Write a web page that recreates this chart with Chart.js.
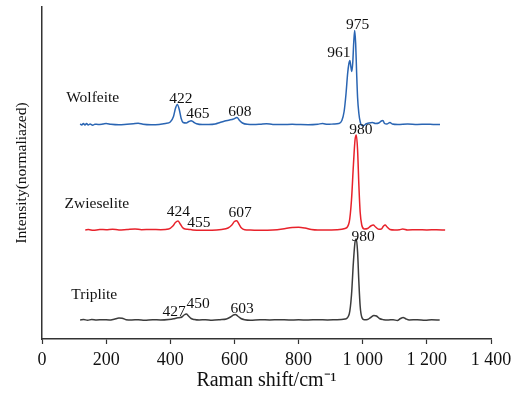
<!DOCTYPE html>
<html>
<head>
<meta charset="utf-8">
<script src="https://cdn.jsdelivr.net/npm/chart.js@4/dist/chart.umd.min.js"></script>
<style>
  html, body { margin: 0; padding: 0; background: #fff; }
</style>
</head>
<body>
<canvas id="chart" width="524" height="393"></canvas>
<script>
// Raman spectra, intensity above each baseline (arbitrary units)
const wolfeiteShift = [119, 124, 129, 134, 139, 144, 150, 158, 165, 175, 190, 200, 215, 240, 265, 285, 300, 315, 340, 365, 385, 400, 410, 416, 422, 428, 434, 440, 450, 458, 465, 472, 482, 500, 520, 540, 555, 570, 585, 597, 608, 616, 625, 640, 660, 680, 700, 720, 750, 780, 800, 830, 860, 875, 890, 910, 925, 935, 942, 948, 953, 957, 960, 963, 966, 969, 972, 975, 978, 981, 984, 988, 992, 997, 1003, 1010, 1020, 1030, 1040, 1050, 1058, 1063, 1068, 1075, 1085, 1092, 1110, 1140, 1170, 1200, 1220, 1241];
const wolfeiteIntensity = [0.5, -0.5, 1, -0.5, 1, -0.5, 0.5, -0.8, 0.3, 0, 0.5, 1, 0.2, -0.3, 0.3, 0.8, 1.2, 0.2, -0.3, 0, 1, 2.5, 8, 16, 20, 15, 6, 2, 1.5, 3, 3.8, 2.5, 0.8, 0, 0, 0.5, 2, 3.5, 4.5, 5.5, 7, 4, 1.5, 0.2, 0, 0.3, 0.8, 0, 0, 0.2, 0, -0.2, 0.3, 1, 0.2, 0.5, 1, 4, 13, 31, 51, 61, 64, 58, 53, 62, 82, 94, 81, 52, 27, 11, 3, -1, -1, 0.5, 1.5, 2, 1, 1.5, 3.5, 4, 1, 0.5, 2, 0.5, 0, 0.5, 0, 0.3, 0, 0];

const zwieseliteShift = [135, 145, 160, 180, 200, 220, 240, 265, 290, 310, 340, 370, 395, 408, 416, 424, 431, 438, 446, 455, 470, 500, 530, 560, 580, 592, 600, 607, 614, 622, 632, 650, 680, 720, 750, 780, 800, 820, 840, 860, 890, 920, 945, 958, 965, 971, 976, 980, 984, 988, 992, 997, 1005, 1015, 1025, 1033, 1040, 1050, 1058, 1065, 1070, 1076, 1085, 1100, 1115, 1125, 1140, 1170, 1200, 1230, 1257];
const zwieseliteIntensity = [0, 0.5, -0.3, 0.5, 0.3, 0.8, 0, 0.5, 1, 0.3, 0.5, 0.3, 1, 4, 7.5, 9, 6, 2.5, 1, 0.8, 0, -0.3, -0.3, 0.5, 2, 5, 8.5, 9.3, 6, 2, 0.3, 0, -0.3, 0, 1, 2.5, 2.8, 2, 0.5, 0, 0, 0.3, 1.5, 8, 30, 65, 90, 95, 80, 45, 18, 5, 1, 1.5, 4, 5, 3, 0.8, 1, 4, 5, 3, 0.5, 0, 0.3, 1, 0, 0.3, 0, 0.3, 0];

const tripliteShift = [119, 130, 142, 155, 170, 190, 210, 225, 240, 250, 262, 280, 300, 320, 345, 370, 395, 410, 420, 428, 436, 443, 450, 457, 465, 475, 490, 510, 530, 555, 575, 588, 597, 603, 610, 620, 632, 650, 680, 710, 740, 770, 800, 830, 860, 890, 920, 945, 958, 965, 971, 976, 980, 984, 988, 992, 997, 1005, 1015, 1025, 1035, 1043, 1052, 1065, 1080, 1095, 1108, 1118, 1126, 1134, 1145, 1170, 1195, 1215, 1240];
const tripliteIntensity = [0, 0.5, -0.3, 0.6, 0, 0.3, 0, 0.8, 2, 1.8, 0.3, 0, 0.3, -0.2, 0.3, 0, 0.5, 1.2, 2, 2.3, 3, 5, 6, 4, 1.5, 0.5, 0, 0.3, -0.2, 0.3, 1, 3, 5, 5.5, 4, 1.5, 0.3, -0.2, 0.3, 0, 0.3, 0, 0.2, 0, 0.3, 0, 0.3, 1, 6, 25, 58, 78, 81, 68, 38, 14, 3, 0.3, 0.5, 2.5, 4.5, 4, 1.5, 0.3, 0, 0.3, -0.5, 1.5, 2.5, 1.2, 0, 0.3, -0.3, 0.3, 0];

// vertical stacking of the three spectra
const wolfeiteOffset = 214.5;
const zwieseliteOffset = 109;
const tripliteOffset = 19;

const xTicks = [0, 200, 400, 600, 800, 1000, 1200, 1400];

// peak and mineral labels, in data coordinates
const peakLabels = [
  { text: 'Wolfeite', x: 158, y: 240.7 },
  { text: '422', x: 433, y: 240.3 },
  { text: '465', x: 486, y: 225 },
  { text: '608', x: 617, y: 227.3 },
  { text: '961', x: 926, y: 286.3 },
  { text: '975', x: 984, y: 314.5 },
  { text: 'Zwieselite', x: 171, y: 135 },
  { text: '424', x: 425, y: 127 },
  { text: '455', x: 489, y: 116 },
  { text: '607', x: 618, y: 126 },
  { text: '980', x: 994, y: 209 },
  { text: 'Triplite', x: 163, y: 43.7 },
  { text: '427', x: 412, y: 27 },
  { text: '450', x: 487, y: 34.6 },
  { text: '603', x: 624, y: 29.6 },
  { text: '980', x: 1001, y: 102.4 }
];

function toPoints(shift, intensity, offset) {
  return shift.map((x, i) => ({ x: x, y: intensity[i] + offset }));
}

const serif = '"Liberation Serif", "Times New Roman", serif';

const labelPlugin = {
  id: 'peakLabels',
  afterDatasetsDraw(chart) {
    const { ctx, scales } = chart;
    ctx.save();
    ctx.font = '15.5px ' + serif;
    ctx.fillStyle = '#111';
    ctx.textAlign = 'center';
    ctx.textBaseline = 'middle';
    peakLabels.forEach(l => {
      ctx.fillText(l.text, scales.x.getPixelForValue(l.x), scales.y.getPixelForValue(l.y));
    });
    ctx.restore();
  }
};

const lineStyle = { borderWidth: 1.5, pointRadius: 0, cubicInterpolationMode: 'monotone', fill: false };

new Chart(document.getElementById('chart'), {
  type: 'line',
  data: {
    datasets: [
      { label: 'Wolfeite', data: toPoints(wolfeiteShift, wolfeiteIntensity, wolfeiteOffset), borderColor: '#2a65b3', ...lineStyle },
      { label: 'Zwieselite', data: toPoints(zwieseliteShift, zwieseliteIntensity, zwieseliteOffset), borderColor: '#e8222b', ...lineStyle },
      { label: 'Triplite', data: toPoints(tripliteShift, tripliteIntensity, tripliteOffset), borderColor: '#3c3c3c', ...lineStyle }
    ]
  },
  options: {
    responsive: false,
    animation: false,
    layout: { padding: { top: 7, right: 33, left: 0, bottom: 0 } },
    plugins: { legend: { display: false }, tooltip: { enabled: false } },
    scales: {
      x: {
        type: 'linear',
        min: 0,
        max: 1400,
        afterBuildTicks: scale => { scale.ticks = xTicks.map(v => ({ value: v })); },
        afterFit: scale => { scale.height = 54; },
        grid: { drawOnChartArea: false, drawTicks: true, tickLength: 5, tickColor: '#333', tickWidth: 1.2 },
        border: { display: true, color: '#333', width: 1.5 },
        ticks: {
          padding: 5,
          color: '#111',
          maxRotation: 0,
          font: { family: serif, size: 18 },
          callback: v => String(v).replace(/\B(?=(\d{3})+(?!\d))/g, ' ')
        },
        title: {
          display: true,
          text: 'Raman shift/cm⁻¹',
          color: '#111',
          font: { family: serif, size: 20 },
          padding: { top: 0, bottom: 0 }
        }
      },
      y: {
        min: 0,
        max: 332,
        afterFit: scale => { scale.width = 42; },
        grid: { display: false },
        border: { display: true, color: '#333', width: 1.5 },
        ticks: { display: false },
        title: {
          display: true,
          text: 'Intensity(normaliazed)',
          color: '#111',
          font: { family: serif, size: 15.5 },
          padding: { top: 13, bottom: 0 }
        }
      }
    }
  },
  plugins: [labelPlugin]
});
</script>
</body>
</html>
